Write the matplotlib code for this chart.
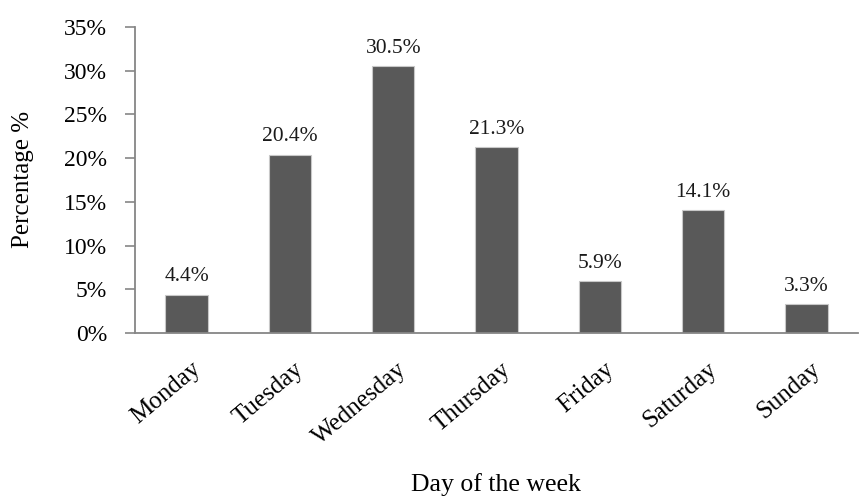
import matplotlib
matplotlib.use("Agg")
import matplotlib.pyplot as plt
import matplotlib.transforms as mtransforms
import numpy as np

days = ["Monday", "Tuesday", "Wednesday", "Thursday", "Friday", "Saturday", "Sunday"]
values = [4.4, 20.4, 30.5, 21.3, 5.9, 14.1, 3.3]
yticks = [0, 5, 10, 15, 20, 25, 30, 35]

plt.rcParams['font.family'] = ['Liberation Serif', 'DejaVu Serif']

fig = plt.figure(figsize=(8.61, 4.97), dpi=100)
ax = fig.add_axes([135/861, 1 - 333/497, (858-135)/861, (333-27)/497])

x = np.arange(len(days))
ax.bar(x, values, width=0.41, color='#595959', edgecolor='#c8c8c8', linewidth=0.8, zorder=2)
for xi, v in zip(x, values):
    ax.annotate(f"{v:.1f}%", (xi, v), xytext=(0, 9.5), textcoords='offset points',
                ha='center', va='baseline', fontsize=15.5, color='#1a1a1a')

ax.set_xlim(-0.5, len(days) - 0.5)
ax.set_ylim(0, 35)
ax.set_yticks(yticks)
ax.set_yticklabels([f"{t}%" for t in yticks], fontsize=17)
ax.set_xticks(x)
ax.set_xticklabels(days, rotation=40, ha='right', va='center', rotation_mode='anchor', fontsize=18)
ax.tick_params(axis='x', length=0, pad=24)
ax.tick_params(axis='y', length=7, width=1.2, color='#868686', pad=13)
offset = mtransforms.ScaledTranslation(11/100, 0, fig.dpi_scale_trans)
for lab in ax.get_xticklabels():
    lab.set_transform(lab.get_transform() + offset)

for s in ['top', 'right']:
    ax.spines[s].set_visible(False)
for s in ['left', 'bottom']:
    ax.spines[s].set_color('#868686')
    ax.spines[s].set_linewidth(1.3)

fig.text(23/861, 1 - 179/497, "Percentage %", rotation=90, ha='center', va='center', fontsize=18)
fig.text(496/861, 1 - 485/497, "Day of the week", ha='center', va='center', fontsize=18.5)

fig.savefig("out.png", dpi=100)
